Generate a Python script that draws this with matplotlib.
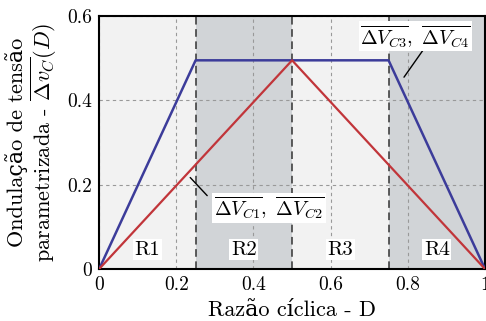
import numpy as np
import matplotlib
matplotlib.use("Agg")
import matplotlib.pyplot as plt

plt.rcParams['font.family'] = ['cmr10', 'DejaVu Serif']
plt.rcParams['mathtext.fontset'] = 'cm'
plt.rcParams['axes.formatter.use_mathtext'] = True

# data
d_blue = [0, 0.25, 0.75, 1.0]
v_blue = [0, 0.495, 0.495, 0]
d_red = [0, 0.5, 1.0]
v_red = [0, 0.495, 0]
region_edges = [0, 0.25, 0.5, 0.75, 1.0]
region_names = ["R1", "R2", "R3", "R4"]
region_colors = ["#f2f2f2", "#d1d4d7", "#f2f2f2", "#d1d4d7"]

fig = plt.figure(figsize=(4.86, 3.21), dpi=100)
ax = fig.add_axes([0.204, 0.162, 0.794, 0.788])

for i in range(4):
    ax.axvspan(region_edges[i], region_edges[i + 1], color=region_colors[i], zorder=0, lw=0)
    ax.text((region_edges[i] + region_edges[i + 1]) / 2, 0.046, region_names[i],
            ha='center', va='center', fontsize=15,
            bbox=dict(facecolor='white', edgecolor='none', pad=1.2), zorder=4)
for x in region_edges[1:-1]:
    ax.axvline(x, color='#333333', ls=(0, (5, 3)), lw=1.1, zorder=2)

ax.grid(True, color='#999999', ls=(0, (3, 3)), lw=0.8, zorder=1)
ax.set_axisbelow(True)

ax.plot(d_blue, v_blue, color='#3c3c9a', lw=1.8, zorder=3)
ax.plot(d_red, v_red, color='#c1353a', lw=1.6, zorder=3)

# leader lines
ax.annotate("", xy=(0.79, 0.455), xytext=(0.84, 0.52),
            arrowprops=dict(arrowstyle='-', color='black', lw=1, shrinkA=0, shrinkB=0),
            zorder=5)
ax.annotate("", xy=(0.236, 0.217), xytext=(0.28, 0.174),
            arrowprops=dict(arrowstyle='-', color='black', lw=1, shrinkA=0, shrinkB=0),
            zorder=5)
ax.text(0.82, 0.552, r"$\overline{\Delta V_{C3}},\ \overline{\Delta V_{C4}}$",
        ha='center', va='center', fontsize=14.5,
        bbox=dict(facecolor='white', edgecolor='none', pad=1), zorder=6)
ax.text(0.44, 0.145, r"$\overline{\Delta V_{C1}},\ \overline{\Delta V_{C2}}$",
        ha='center', va='center', fontsize=14.5,
        bbox=dict(facecolor='white', edgecolor='none', pad=1), zorder=6)

ax.set_xlim(0, 1)
ax.set_ylim(0, 0.6)
ax.set_xticks([0, 0.2, 0.4, 0.6, 0.8, 1.0])
ax.set_xticklabels(["0", "0.2", "0.4", "0.6", "0.8", "1"])
ax.set_yticks([0, 0.2, 0.4, 0.6])
ax.set_yticklabels(["0", "0.2", "0.4", "0.6"])
ax.tick_params(labelsize=14, length=0, pad=5)
for s in ax.spines.values():
    s.set_linewidth(1.5)

ax.set_xlabel("Razão cíclica - D", fontsize=16, labelpad=5)
ax.set_ylabel("Ondulação de tensão\nparametrizada - $\\overline{\\Delta v_C}(D)$",
              fontsize=16, labelpad=6, linespacing=1.0)

fig.savefig("out.png", dpi=100)
